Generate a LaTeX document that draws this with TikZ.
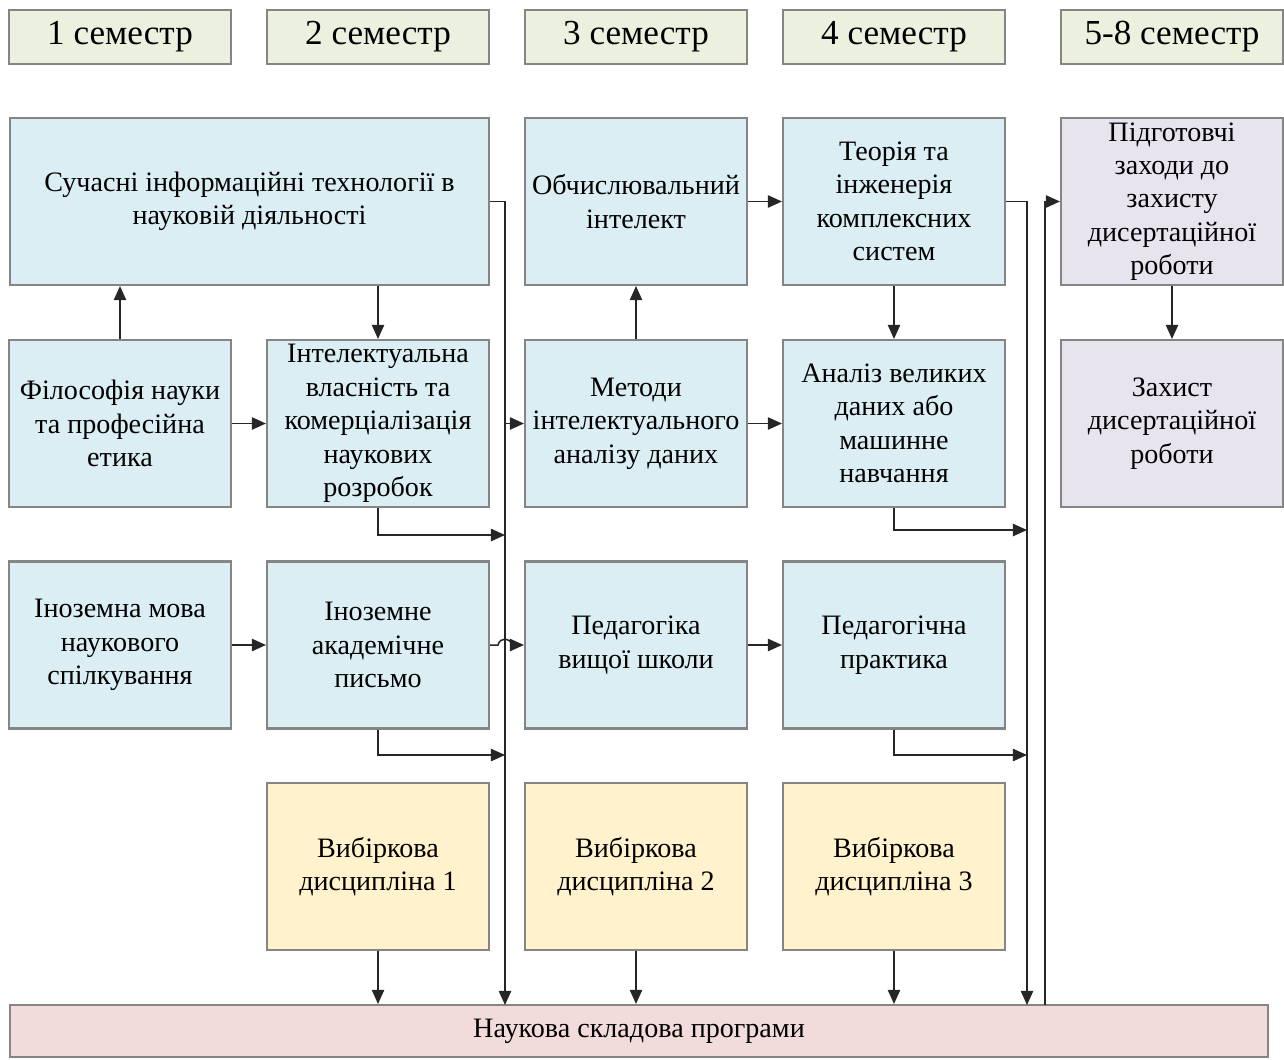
\documentclass[tikz,border=0pt]{standalone}
\usepackage{fontspec}
\setmainfont{Liberation Serif}
\usepackage{xcolor}
\usetikzlibrary{arrows.meta}

\definecolor{semgreen}{HTML}{EBF1DE}
\definecolor{kursblue}{HTML}{DAEEF3}
\definecolor{zakhlav}{HTML}{E8E4EE}
\definecolor{vybyellow}{HTML}{FFF2CC}
\definecolor{naukpink}{HTML}{F2DCDB}
\definecolor{ramka}{HTML}{858585}
\definecolor{liniya}{HTML}{262626}

\tikzset{
  blok/.style={draw=ramka, line width=1.2pt, align=center, inner sep=2pt,
    minimum width=4.44cm, minimum height=3.34cm,
    font=\fontsize{16}{19}\selectfont},
  semblok/.style={blok, fill=semgreen, minimum height=1.08cm,
    font=\fontsize{20}{24}\selectfont},
  kurs/.style={blok, fill=kursblue},
  zakhyst/.style={blok, fill=zakhlav},
  vybir/.style={blok, fill=vybyellow},
  strilka/.style={draw=liniya, line width=0.85pt,
    -{Triangle[length=8pt,width=7pt]}}
}

\begin{document}
\begin{tikzpicture}[x=0.02cm, y=-0.02cm]
  \useasboundingbox (0,0) rectangle (1284,1059);

  % semesters
  \node[semblok] (sem1) at (120,37) {1 семестр};
  \node[semblok] (sem2) at (378,37) {2 семестр};
  \node[semblok] (sem3) at (636,37) {3 семестр};
  \node[semblok] (sem4) at (894,37) {4 семестр};
  \node[semblok] (sem5) at (1172,37) {5-8 семестр};

  % first row
  \node[kurs, minimum width=9.58cm] (suchasni) at (249.5,201.5)
    {Сучасні інформаційні технології в\\науковій діяльності};
  \node[kurs] (obchysl) at (636,201.5) {Обчислювальний\\інтелект};
  \node[kurs] (teoriya) at (894,201.5) {Теорія та\\інженерія\\комплексних\\систем};
  \node[zakhyst] (pidgot) at (1172,201.5)
    {Підготовчі\\заходи до\\захисту\\дисертаційної\\роботи};

  % second row
  \node[kurs] (filos) at (120,423.5) {Філософія науки\\та професійна\\етика};
  \node[kurs] (vlasn) at (378,423.5)
    {Інтелектуальна\\власність та\\комерціалізація\\наукових\\розробок};
  \node[kurs] (metody) at (636,423.5) {Методи\\інтелектуального\\аналізу даних};
  \node[kurs] (analiz) at (894,423.5) {Аналіз великих\\даних або\\машинне\\навчання};
  \node[zakhyst] (zakhyst) at (1172,423.5) {Захист\\дисертаційної\\роботи};

  % third row
  \node[kurs] (inmova) at (120,645) {Іноземна мова\\наукового\\спілкування};
  \node[kurs] (inpysmo) at (378,645) {Іноземне\\академічне\\письмо};
  \node[kurs] (pedag) at (636,645) {Педагогіка\\вищої школи};
  \node[kurs] (prakt) at (894,645) {Педагогічна\\практика};

  % electives
  \node[vybir] (vyb1) at (378,866.5) {Вибіркова\\дисципліна 1};
  \node[vybir] (vyb2) at (636,866.5) {Вибіркова\\дисципліна 2};
  \node[vybir] (vyb3) at (894,866.5) {Вибіркова\\дисципліна 3};

  \node[blok, fill=naukpink, minimum width=25.16cm, minimum height=1.04cm]
    (nauka) at (639,1031) {Наукова складова програми};

  % points on the vertical lines
  \coordinate (lin1) at (505,1005);
  \coordinate (lin1a) at (505,423.5);
  \coordinate (lin1b) at (505,535);
  \coordinate (lin1c) at (505,755);
  \coordinate (lin2) at (1027,1005);
  \coordinate (lin2a) at (1027,530);
  \coordinate (lin2b) at (1027,755);
  \coordinate (lin3) at (1045,1005);

  % connectors
  \draw[strilka] (filos.north) -- (filos.north |- suchasni.south);
  \draw[strilka] (vlasn.north |- suchasni.south) -- (vlasn.north);
  \draw[strilka] (filos) -- (vlasn);
  \draw[strilka] (inmova) -- (inpysmo);
  \draw[strilka] (suchasni.east) -| (lin1);
  \draw[strilka] (lin1a) -- (metody.west);
  \draw[strilka] (vlasn.south) |- (lin1b);
  \draw[strilka] (inpysmo.south) |- (lin1c);
  \draw[strilka] (inpysmo.east) -- (498,645) .. controls (500,637) and (510,637) .. (512,645) -- (pedag.west);

  \draw[strilka] (metody) -- (obchysl);
  \draw[strilka] (obchysl) -- (teoriya);
  \draw[strilka] (metody) -- (analiz);
  \draw[strilka] (teoriya) -- (analiz);
  \draw[strilka] (pedag) -- (prakt);
  \draw[strilka] (teoriya.east) -| (lin2);
  \draw[strilka] (analiz.south) |- (lin2a);
  \draw[strilka] (prakt.south) |- (lin2b);

  \draw[strilka] (lin3) |- (pidgot.west);
  \draw[strilka] (pidgot) -- (zakhyst);

  \draw[strilka] (vyb1.south) -- (vyb1.south |- nauka.north);
  \draw[strilka] (vyb2.south) -- (vyb2.south |- nauka.north);
  \draw[strilka] (vyb3.south) -- (vyb3.south |- nauka.north);
\end{tikzpicture}
\end{document}
